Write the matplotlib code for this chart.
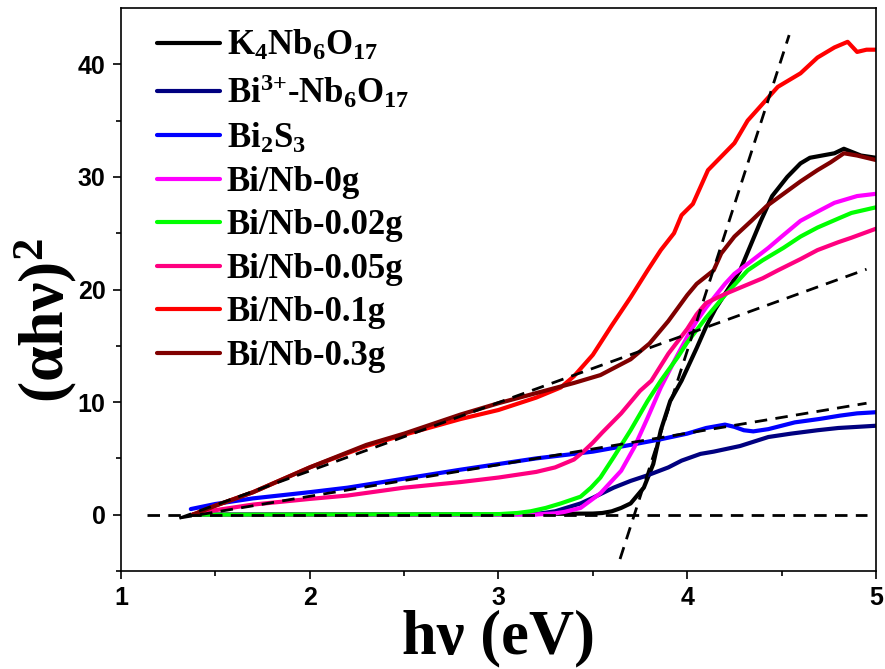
import numpy as np
import matplotlib

matplotlib.use("Agg")
import matplotlib.pyplot as plt

plt.rcParams["mathtext.fontset"] = "custom"
plt.rcParams["mathtext.rm"] = "Liberation Serif:bold"
plt.rcParams["mathtext.it"] = "Liberation Serif:bold"
plt.rcParams["mathtext.bf"] = "Liberation Serif:bold"

########## DATA ########
labels = [
    "K$_4$Nb$_6$O$_{17}$",
    "Bi$^{3{+}}$-Nb$_6$O$_{17}$",
    "Bi$_2$S$_3$",
    "Bi/Nb-0g",
    "Bi/Nb-0.02g",
    "Bi/Nb-0.05g",
    "Bi/Nb-0.1g",
    "Bi/Nb-0.3g",
]
colors = ["#000000", "#000080", "#0000ff", "#ff00ff", "#00ff00", "#ff0080", "#ff0000", "#800000"]

# K4Nb6O17
k_x = [1.38, 3.0, 3.5, 3.55, 3.6, 3.65, 3.7, 3.77, 3.82, 3.86, 3.91, 3.97, 4.05, 4.1, 4.15, 4.2,
       4.28, 4.39, 4.45, 4.53, 4.6, 4.65, 4.78, 4.83, 4.92, 5.0]
k_y = [0.0, 0.05, 0.1, 0.15, 0.3, 0.6, 1.0, 2.4, 4.5, 7.5, 10.1, 11.9, 14.8, 16.7, 18.3, 19.6,
       21.7, 26.1, 28.3, 30.0, 31.2, 31.7, 32.1, 32.5, 31.9, 31.7]

# Bi3+-Nb6O17
bin_x = [1.38, 3.2, 3.3, 3.435, 3.5, 3.61, 3.7, 3.79, 3.9, 3.97, 4.07, 4.14, 4.28, 4.43, 4.55,
         4.69, 4.8, 4.9, 5.0]
bin_y = [0.0, 0.05, 0.3, 1.0, 1.5, 2.4, 3.0, 3.5, 4.2, 4.8, 5.4, 5.6, 6.1, 6.9, 7.2,
         7.5, 7.7, 7.8, 7.9]

# Bi2S3
bs_x = [1.37, 1.5, 1.7, 2.0, 2.2, 2.5, 2.8, 3.0, 3.2, 3.5, 3.7, 3.86, 4.0, 4.1, 4.2, 4.25, 4.3,
        4.35, 4.43, 4.5, 4.57, 4.7, 4.81, 4.9, 5.0]
bs_y = [0.5, 0.95, 1.45, 2.0, 2.4, 3.2, 4.0, 4.5, 5.0, 5.6, 6.2, 6.7, 7.2, 7.7, 8.0, 7.8, 7.5,
        7.4, 7.6, 7.9, 8.2, 8.5, 8.8, 9.0, 9.1]

# Bi/Nb-0g
g0_x = [1.38, 3.2, 3.3, 3.35, 3.435, 3.54, 3.65, 3.72, 3.79, 3.86, 3.93, 4.0, 4.05, 4.1, 4.2,
        4.25, 4.33, 4.43, 4.5, 4.6, 4.7, 4.78, 4.9, 5.0]
g0_y = [0.0, 0.02, 0.12, 0.25, 0.6, 1.9, 3.9, 6.0, 8.6, 11.3, 13.6, 15.8, 17.2, 18.4, 20.5,
        21.4, 22.4, 23.7, 24.7, 26.1, 27.0, 27.7, 28.3, 28.5]

# Bi/Nb-0.02g
g002_x = [1.38, 3.0, 3.1, 3.17, 3.25, 3.33, 3.435, 3.49, 3.54, 3.61, 3.7, 3.79, 3.86, 3.95, 4.0,
          4.1, 4.2, 4.32, 4.4, 4.51, 4.6, 4.69, 4.8, 4.87, 5.0]
g002_y = [0.0, 0.05, 0.15, 0.3, 0.6, 1.0, 1.6, 2.4, 3.3, 5.1, 7.5, 10.1, 11.9, 14.0, 15.3,
          17.5, 19.5, 21.7, 22.6, 23.7, 24.7, 25.5, 26.3, 26.8, 27.3]

# Bi/Nb-0.05g
g005_x = [1.38, 1.5, 1.7, 2.0, 2.2, 2.5, 2.8, 3.0, 3.2, 3.3, 3.4, 3.45, 3.5, 3.55, 3.65, 3.75,
          3.81, 3.9, 4.0, 4.05, 4.1, 4.2, 4.3, 4.4, 4.48, 4.6, 4.69, 4.8, 4.87, 5.0]
g005_y = [0.0, 0.4, 0.9, 1.4, 1.7, 2.4, 2.9, 3.3, 3.8, 4.2, 4.9, 5.6, 6.4, 7.3, 9.0, 11.0,
          11.9, 14.3, 16.5, 17.8, 18.8, 19.6, 20.3, 21.0, 21.7, 22.7, 23.5, 24.2, 24.6, 25.4]

# Bi/Nb-0.1g
g01_x = [1.38, 1.5, 1.7, 2.0, 2.3, 2.5, 2.8, 3.0, 3.2, 3.33, 3.4, 3.5, 3.6, 3.7, 3.79, 3.86,
         3.93, 3.97, 4.03, 4.11, 4.18, 4.25, 4.32, 4.4, 4.48, 4.6, 4.69, 4.78, 4.85, 4.9, 4.95, 5.0]
g01_y = [0.0, 0.8, 2.0, 4.2, 6.1, 7.1, 8.5, 9.3, 10.4, 11.3, 12.3, 14.2, 16.8, 19.3, 21.7, 23.5,
         25.0, 26.6, 27.6, 30.6, 31.8, 33.0, 35.0, 36.5, 38.0, 39.2, 40.6, 41.5, 42.0, 41.1, 41.3, 41.3]

# Bi/Nb-0.3g
g03_x = [1.38, 1.5, 1.7, 2.0, 2.3, 2.5, 2.8, 3.0, 3.2, 3.4, 3.54, 3.7, 3.8, 3.9, 4.0, 4.05,
         4.14, 4.18, 4.25, 4.34, 4.42, 4.51, 4.6, 4.69, 4.76, 4.83, 4.9, 5.0]
g03_y = [0.0, 0.8, 2.0, 4.2, 6.2, 7.2, 8.9, 9.9, 10.8, 11.7, 12.4, 13.8, 15.2, 17.2, 19.5, 20.5,
         21.7, 23.2, 24.7, 26.1, 27.4, 28.5, 29.6, 30.6, 31.3, 32.1, 31.9, 31.5]

series_x = [k_x, bin_x, bs_x, g0_x, g002_x, g005_x, g01_x, g03_x]
series_y = [k_y, bin_y, bs_y, g0_y, g002_y, g005_y, g01_y, g03_y]

# dashed guide lines (start, end)
guide_x = [[1.14, 4.95], [3.644, 4.54], [1.31, 4.95], [1.31, 4.95]]
guide_y = [[0.0, 0.0], [-3.94, 42.6], [-0.3, 21.8], [-0.3, 9.9]]
###### END DATA ########

fig = plt.figure(figsize=(8.85, 6.69), dpi=100)
ax = fig.add_axes([0.1367, 0.1465, 0.8531, 0.8415])

for i in range(len(labels)):
    ax.plot(series_x[i], series_y[i], color=colors[i], lw=3, label=labels[i],
            solid_capstyle="round", solid_joinstyle="round")

for gx, gy in zip(guide_x, guide_y):
    ax.plot(gx, gy, color="black", lw=2, linestyle=(0, (4.5, 3)))

ax.set_xlim(1, 5)
ax.set_ylim(-5, 45)
ax.set_xticks([1, 2, 3, 4, 5])
ax.set_xticks(np.arange(1.5, 5, 1.0), minor=True)
ax.set_yticks([0, 10, 20, 30, 40])
ax.set_yticks([-5, 5, 15, 25, 35], minor=True)

for s in ax.spines.values():
    s.set_linewidth(1.2)
ax.tick_params(which="major", direction="out", length=6, width=1.2, labelsize=18, pad=5)
ax.tick_params(which="minor", direction="out", length=3.5, width=1.2)
for t in ax.get_xticklabels() + ax.get_yticklabels():
    t.set_fontfamily("Liberation Sans")
    t.set_fontweight("bold")

ax.set_xlabel("hν (eV)", fontfamily="Liberation Serif", fontweight="bold", fontsize=45,
              va="baseline")
ax.xaxis.set_label_coords(0.5, -0.146)
ax.set_ylabel("(αhν)$^2$", fontfamily="Liberation Serif", fontweight="bold", fontsize=46,
              ha="center", va="center")
ax.yaxis.set_label_coords(-0.1, 0.446)

ax.legend(loc="upper left", bbox_to_anchor=(0.025, 0.994), frameon=False, borderpad=0,
          handlelength=1.8, handletextpad=0.2, labelspacing=0.3,
          prop={"family": "Liberation Serif", "weight": "bold", "size": 25})

plt.savefig("out.png", dpi=100)
